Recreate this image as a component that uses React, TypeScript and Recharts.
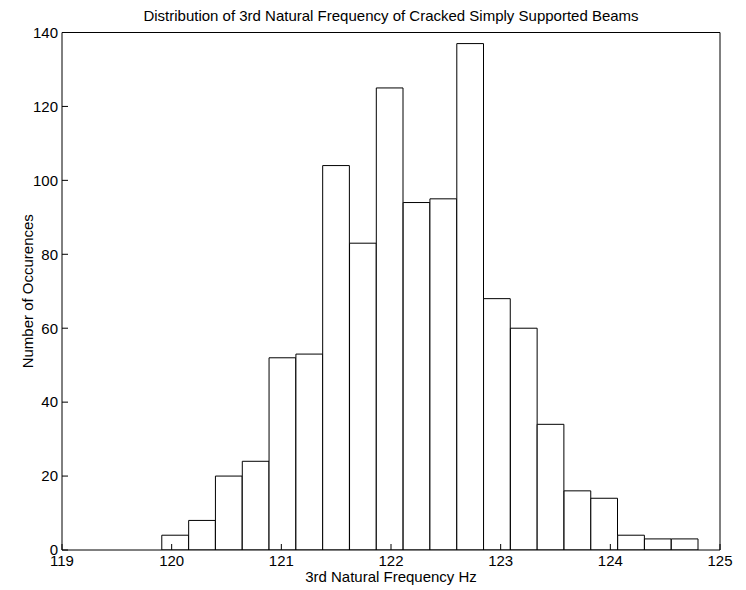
import { BarChart, Bar, XAxis, YAxis, Label } from "recharts";

// bin centres (Hz) and counts
const binCenters = [
  119.299, 119.543, 119.788, 120.032, 120.277, 120.521, 120.766, 121.01,
  121.255, 121.499, 121.744, 121.988, 122.233, 122.477, 122.722, 122.966,
  123.211, 123.455, 123.7, 123.944, 124.189, 124.433, 124.678
];
const counts = [
  0, 0, 0, 4, 8, 20, 24, 52, 53, 104, 83, 125, 94, 95, 137, 68, 60, 34, 16,
  14, 4, 3, 3
];
const xTicks = [119, 120, 121, 122, 123, 124, 125];
const yTicks = [0, 20, 40, 60, 80, 100, 120, 140];

const data = binCenters.map((f, i) => ({ f, n: counts[i] }));

const font = "'Liberation Sans', Arial, sans-serif";
const tickStyle = { fill: "#000", fontSize: 15, fontFamily: font };

export default function App() {
  return (
    <BarChart
      width={738}
      height={582}
      data={data}
      margin={{ top: 23.5, right: 25, bottom: 0, left: 0 }}
      style={{ fontFamily: font }}
    >
      <XAxis
        dataKey="f"
        type="number"
        domain={[119, 125]}
        ticks={xTicks}
        allowDataOverflow
        height={40}
        stroke="#000"
        tickSize={-6}
        tickMargin={11}
        tick={tickStyle}
      >
        <Label
          value="3rd Natural Frequency Hz"
          position="insideBottom"
          offset={8}
          style={{ fill: "#000", fontSize: 15 }}
        />
      </XAxis>
      <XAxis
        xAxisId="top"
        orientation="top"
        type="number"
        domain={[119, 125]}
        ticks={xTicks}
        allowDataOverflow
        height={1}
        stroke="#000"
        tickSize={-6}
        tick={false}
      >
        <Label
          value="Distribution of 3rd Natural Frequency of Cracked Simply Supported Beams"
          position="top"
          offset={11}
          style={{ fill: "#000", fontSize: 15 }}
        />
      </XAxis>
      <YAxis
        type="number"
        domain={[0, 140]}
        ticks={yTicks}
        allowDataOverflow
        width={54}
        stroke="#000"
        tickSize={-6}
        tickMargin={10}
        tick={tickStyle}
      >
        <Label
          value="Number of Occurences"
          angle={-90}
          position="insideLeft"
          offset={20}
          style={{ fill: "#000", fontSize: 15, textAnchor: "middle" }}
        />
      </YAxis>
      <YAxis
        yAxisId="right"
        orientation="right"
        type="number"
        domain={[0, 140]}
        ticks={yTicks}
        allowDataOverflow
        width={1}
        stroke="#000"
        tickSize={-6}
        tick={false}
      />
      <Bar
        dataKey="n"
        barSize={26.7}
        fill="#fff"
        stroke="#000"
        strokeWidth={1}
        isAnimationActive={false}
      />
    </BarChart>
  );
}
